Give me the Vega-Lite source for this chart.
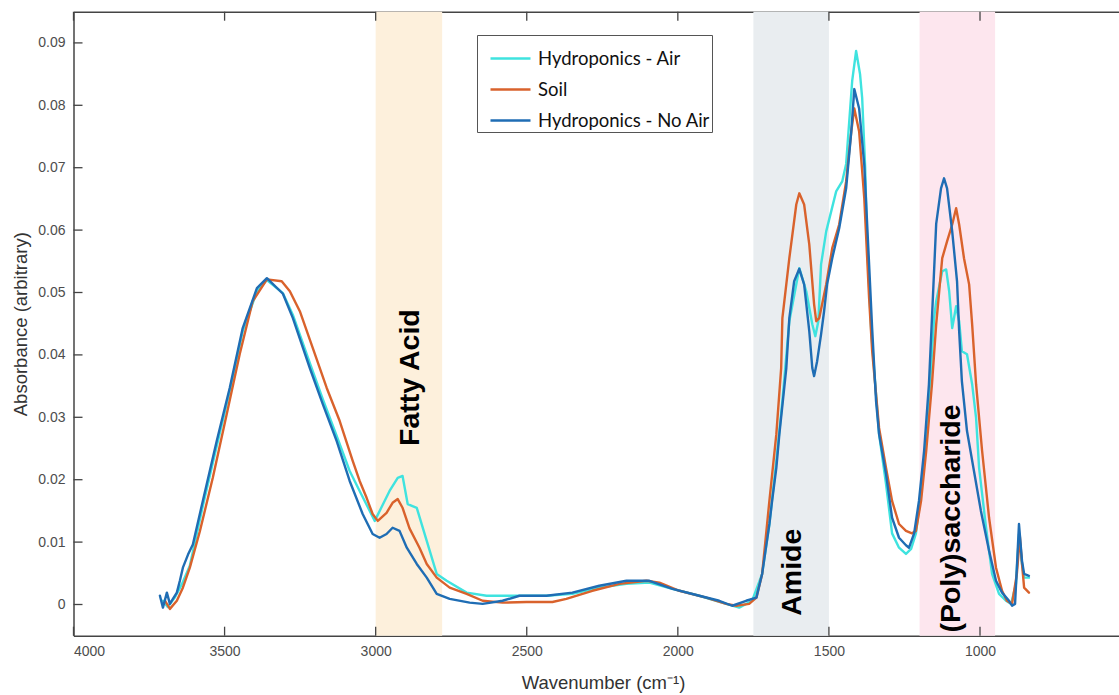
{
  "$schema": "https://vega.github.io/schema/vega-lite/v6.json",
  "width": 1045.5,
  "height": 624,
  "autosize": "none",
  "padding": {"left": 73.5, "top": 11.7, "right": 0, "bottom": 59.3},
  "background": "white",
  "config": {
    "view": {"stroke": null},
    "font": "Liberation Sans",
    "axis": {
      "domainColor": "#444444",
      "domainWidth": 1.5,
      "labelColor": "#4d4d4d",
      "labelFontSize": 14,
      "titleColor": "#333333",
      "titleFontSize": 18.5,
      "titleFontWeight": "normal",
      "grid": false,
      "ticks": false
    }
  },
  "datasets": {
    "bands": [
      {"region": "Fatty Acid", "from": 3000, "to": 2780},
      {"region": "Amide", "from": 1750, "to": 1500},
      {"region": "(Poly)saccharide", "from": 1200, "to": 950}
    ],
    "labels": [
      {"text": "Fatty Acid", "wn": 2888, "abs": 0.0254},
      {"text": "Amide", "wn": 1622, "abs": -0.0018},
      {"text": "(Poly)saccharide", "wn": 1096, "abs": -0.0045}
    ],
    "xticks": [
      {"wn": 1000}, {"wn": 1500}, {"wn": 2000}, {"wn": 2500}, {"wn": 3000}, {"wn": 3500}, {"wn": 4000}
    ],
    "yticks": [
      {"abs": 0}, {"abs": 0.01}, {"abs": 0.02}, {"abs": 0.03}, {"abs": 0.04},
      {"abs": 0.05}, {"abs": 0.06}, {"abs": 0.07}, {"abs": 0.08}, {"abs": 0.09}
    ],
    "spectra": [
      {"series": "Hydroponics - Air", "wn": 3704, "abs": 0.0006},
      {"series": "Hydroponics - Air", "wn": 3688, "abs": -0.0004},
      {"series": "Hydroponics - Air", "wn": 3665, "abs": 0.0011},
      {"series": "Hydroponics - Air", "wn": 3641, "abs": 0.0033},
      {"series": "Hydroponics - Air", "wn": 3615, "abs": 0.0062},
      {"series": "Hydroponics - Air", "wn": 3572, "abs": 0.0158},
      {"series": "Hydroponics - Air", "wn": 3526, "abs": 0.0254},
      {"series": "Hydroponics - Air", "wn": 3483, "abs": 0.0342},
      {"series": "Hydroponics - Air", "wn": 3440, "abs": 0.0438},
      {"series": "Hydroponics - Air", "wn": 3393, "abs": 0.0502},
      {"series": "Hydroponics - Air", "wn": 3360, "abs": 0.0520},
      {"series": "Hydroponics - Air", "wn": 3307, "abs": 0.0499},
      {"series": "Hydroponics - Air", "wn": 3274, "abs": 0.0464},
      {"series": "Hydroponics - Air", "wn": 3218, "abs": 0.0387},
      {"series": "Hydroponics - Air", "wn": 3175, "abs": 0.0329},
      {"series": "Hydroponics - Air", "wn": 3129, "abs": 0.0270},
      {"series": "Hydroponics - Air", "wn": 3086, "abs": 0.0214},
      {"series": "Hydroponics - Air", "wn": 3053, "abs": 0.0182},
      {"series": "Hydroponics - Air", "wn": 3003, "abs": 0.0134},
      {"series": "Hydroponics - Air", "wn": 2954, "abs": 0.0182},
      {"series": "Hydroponics - Air", "wn": 2927, "abs": 0.0203},
      {"series": "Hydroponics - Air", "wn": 2911, "abs": 0.0206},
      {"series": "Hydroponics - Air", "wn": 2894, "abs": 0.0161},
      {"series": "Hydroponics - Air", "wn": 2864, "abs": 0.0155},
      {"series": "Hydroponics - Air", "wn": 2831, "abs": 0.0102},
      {"series": "Hydroponics - Air", "wn": 2798, "abs": 0.0049},
      {"series": "Hydroponics - Air", "wn": 2765, "abs": 0.0038},
      {"series": "Hydroponics - Air", "wn": 2699, "abs": 0.0019},
      {"series": "Hydroponics - Air", "wn": 2633, "abs": 0.0014},
      {"series": "Hydroponics - Air", "wn": 2524, "abs": 0.0014},
      {"series": "Hydroponics - Air", "wn": 2435, "abs": 0.0014},
      {"series": "Hydroponics - Air", "wn": 2349, "abs": 0.0017},
      {"series": "Hydroponics - Air", "wn": 2260, "abs": 0.0027},
      {"series": "Hydroponics - Air", "wn": 2170, "abs": 0.0033},
      {"series": "Hydroponics - Air", "wn": 2094, "abs": 0.0035},
      {"series": "Hydroponics - Air", "wn": 2018, "abs": 0.0025},
      {"series": "Hydroponics - Air", "wn": 1929, "abs": 0.0014},
      {"series": "Hydroponics - Air", "wn": 1840, "abs": 0.0001},
      {"series": "Hydroponics - Air", "wn": 1797, "abs": -0.0005},
      {"series": "Hydroponics - Air", "wn": 1754, "abs": 0.0006},
      {"series": "Hydroponics - Air", "wn": 1721, "abs": 0.0049},
      {"series": "Hydroponics - Air", "wn": 1697, "abs": 0.0129},
      {"series": "Hydroponics - Air", "wn": 1674, "abs": 0.0230},
      {"series": "Hydroponics - Air", "wn": 1654, "abs": 0.0326},
      {"series": "Hydroponics - Air", "wn": 1631, "abs": 0.0454},
      {"series": "Hydroponics - Air", "wn": 1598, "abs": 0.0539},
      {"series": "Hydroponics - Air", "wn": 1575, "abs": 0.0502},
      {"series": "Hydroponics - Air", "wn": 1555, "abs": 0.0449},
      {"series": "Hydroponics - Air", "wn": 1545, "abs": 0.0430},
      {"series": "Hydroponics - Air", "wn": 1535, "abs": 0.0454},
      {"series": "Hydroponics - Air", "wn": 1526, "abs": 0.0545},
      {"series": "Hydroponics - Air", "wn": 1509, "abs": 0.0598},
      {"series": "Hydroponics - Air", "wn": 1476, "abs": 0.0662},
      {"series": "Hydroponics - Air", "wn": 1456, "abs": 0.0678},
      {"series": "Hydroponics - Air", "wn": 1443, "abs": 0.0706},
      {"series": "Hydroponics - Air", "wn": 1423, "abs": 0.0839},
      {"series": "Hydroponics - Air", "wn": 1410, "abs": 0.0887},
      {"series": "Hydroponics - Air", "wn": 1397, "abs": 0.0850},
      {"series": "Hydroponics - Air", "wn": 1390, "abs": 0.0812},
      {"series": "Hydroponics - Air", "wn": 1380, "abs": 0.0700},
      {"series": "Hydroponics - Air", "wn": 1373, "abs": 0.0571},
      {"series": "Hydroponics - Air", "wn": 1360, "abs": 0.0438},
      {"series": "Hydroponics - Air", "wn": 1334, "abs": 0.0273},
      {"series": "Hydroponics - Air", "wn": 1311, "abs": 0.0193},
      {"series": "Hydroponics - Air", "wn": 1291, "abs": 0.0114},
      {"series": "Hydroponics - Air", "wn": 1268, "abs": 0.0091},
      {"series": "Hydroponics - Air", "wn": 1245, "abs": 0.0081},
      {"series": "Hydroponics - Air", "wn": 1228, "abs": 0.0089},
      {"series": "Hydroponics - Air", "wn": 1212, "abs": 0.0114},
      {"series": "Hydroponics - Air", "wn": 1195, "abs": 0.0178},
      {"series": "Hydroponics - Air", "wn": 1178, "abs": 0.0262},
      {"series": "Hydroponics - Air", "wn": 1162, "abs": 0.0379},
      {"series": "Hydroponics - Air", "wn": 1152, "abs": 0.0459},
      {"series": "Hydroponics - Air", "wn": 1145, "abs": 0.0486},
      {"series": "Hydroponics - Air", "wn": 1125, "abs": 0.0534},
      {"series": "Hydroponics - Air", "wn": 1112, "abs": 0.0537},
      {"series": "Hydroponics - Air", "wn": 1102, "abs": 0.0502},
      {"series": "Hydroponics - Air", "wn": 1092, "abs": 0.0443},
      {"series": "Hydroponics - Air", "wn": 1079, "abs": 0.0478},
      {"series": "Hydroponics - Air", "wn": 1069, "abs": 0.0454},
      {"series": "Hydroponics - Air", "wn": 1060, "abs": 0.0406},
      {"series": "Hydroponics - Air", "wn": 1043, "abs": 0.0401},
      {"series": "Hydroponics - Air", "wn": 1026, "abs": 0.0353},
      {"series": "Hydroponics - Air", "wn": 1013, "abs": 0.0299},
      {"series": "Hydroponics - Air", "wn": 1003, "abs": 0.0219},
      {"series": "Hydroponics - Air", "wn": 980, "abs": 0.0123},
      {"series": "Hydroponics - Air", "wn": 960, "abs": 0.0049},
      {"series": "Hydroponics - Air", "wn": 937, "abs": 0.0017},
      {"series": "Hydroponics - Air", "wn": 914, "abs": 0.0006},
      {"series": "Hydroponics - Air", "wn": 897, "abs": 0.0001},
      {"series": "Hydroponics - Air", "wn": 881, "abs": 0.0033},
      {"series": "Hydroponics - Air", "wn": 871, "abs": 0.0113},
      {"series": "Hydroponics - Air", "wn": 861, "abs": 0.0065},
      {"series": "Hydroponics - Air", "wn": 854, "abs": 0.0043},
      {"series": "Hydroponics - Air", "wn": 838, "abs": 0.0043},

      {"series": "Soil", "wn": 3697, "abs": 0.0006},
      {"series": "Soil", "wn": 3681, "abs": -0.0007},
      {"series": "Soil", "wn": 3658, "abs": 0.0006},
      {"series": "Soil", "wn": 3638, "abs": 0.0027},
      {"series": "Soil", "wn": 3615, "abs": 0.0059},
      {"series": "Soil", "wn": 3582, "abs": 0.0117},
      {"series": "Soil", "wn": 3539, "abs": 0.0203},
      {"series": "Soil", "wn": 3493, "abs": 0.0305},
      {"series": "Soil", "wn": 3450, "abs": 0.0401},
      {"series": "Soil", "wn": 3407, "abs": 0.0486},
      {"series": "Soil", "wn": 3360, "abs": 0.0521},
      {"series": "Soil", "wn": 3311, "abs": 0.0518},
      {"series": "Soil", "wn": 3284, "abs": 0.0502},
      {"series": "Soil", "wn": 3251, "abs": 0.0470},
      {"series": "Soil", "wn": 3208, "abs": 0.0411},
      {"series": "Soil", "wn": 3162, "abs": 0.0347},
      {"series": "Soil", "wn": 3119, "abs": 0.0294},
      {"series": "Soil", "wn": 3076, "abs": 0.0230},
      {"series": "Soil", "wn": 3053, "abs": 0.0198},
      {"series": "Soil", "wn": 3030, "abs": 0.0171},
      {"series": "Soil", "wn": 3010, "abs": 0.0145},
      {"series": "Soil", "wn": 2993, "abs": 0.0134},
      {"series": "Soil", "wn": 2964, "abs": 0.0147},
      {"series": "Soil", "wn": 2944, "abs": 0.0163},
      {"series": "Soil", "wn": 2927, "abs": 0.0169},
      {"series": "Soil", "wn": 2911, "abs": 0.0155},
      {"series": "Soil", "wn": 2888, "abs": 0.0122},
      {"series": "Soil", "wn": 2855, "abs": 0.0091},
      {"series": "Soil", "wn": 2831, "abs": 0.0065},
      {"series": "Soil", "wn": 2798, "abs": 0.0043},
      {"series": "Soil", "wn": 2755, "abs": 0.0027},
      {"series": "Soil", "wn": 2699, "abs": 0.0017},
      {"series": "Soil", "wn": 2646, "abs": 0.0006},
      {"series": "Soil", "wn": 2580, "abs": 0.0003},
      {"series": "Soil", "wn": 2501, "abs": 0.0004},
      {"series": "Soil", "wn": 2415, "abs": 0.0004},
      {"series": "Soil", "wn": 2369, "abs": 0.0009},
      {"series": "Soil", "wn": 2283, "abs": 0.0022},
      {"series": "Soil", "wn": 2193, "abs": 0.0033},
      {"series": "Soil", "wn": 2104, "abs": 0.0038},
      {"series": "Soil", "wn": 2061, "abs": 0.0035},
      {"series": "Soil", "wn": 1995, "abs": 0.0022},
      {"series": "Soil", "wn": 1906, "abs": 0.0011},
      {"series": "Soil", "wn": 1840, "abs": 0.0001},
      {"series": "Soil", "wn": 1807, "abs": -0.0002},
      {"series": "Soil", "wn": 1764, "abs": 0.0001},
      {"series": "Soil", "wn": 1740, "abs": 0.0011},
      {"series": "Soil", "wn": 1721, "abs": 0.0049},
      {"series": "Soil", "wn": 1697, "abs": 0.0166},
      {"series": "Soil", "wn": 1674, "abs": 0.0273},
      {"series": "Soil", "wn": 1658, "abs": 0.0379},
      {"series": "Soil", "wn": 1654, "abs": 0.0459},
      {"series": "Soil", "wn": 1631, "abs": 0.0555},
      {"series": "Soil", "wn": 1608, "abs": 0.0641},
      {"series": "Soil", "wn": 1598, "abs": 0.0659},
      {"series": "Soil", "wn": 1582, "abs": 0.0641},
      {"series": "Soil", "wn": 1565, "abs": 0.0577},
      {"series": "Soil", "wn": 1549, "abs": 0.0481},
      {"series": "Soil", "wn": 1542, "abs": 0.0454},
      {"series": "Soil", "wn": 1532, "abs": 0.0459},
      {"series": "Soil", "wn": 1509, "abs": 0.0513},
      {"series": "Soil", "wn": 1489, "abs": 0.0571},
      {"series": "Soil", "wn": 1466, "abs": 0.0609},
      {"series": "Soil", "wn": 1443, "abs": 0.0678},
      {"series": "Soil", "wn": 1426, "abs": 0.0758},
      {"series": "Soil", "wn": 1416, "abs": 0.0795},
      {"series": "Soil", "wn": 1400, "abs": 0.0758},
      {"series": "Soil", "wn": 1383, "abs": 0.0651},
      {"series": "Soil", "wn": 1367, "abs": 0.0491},
      {"series": "Soil", "wn": 1357, "abs": 0.0407},
      {"series": "Soil", "wn": 1334, "abs": 0.0283},
      {"series": "Soil", "wn": 1311, "abs": 0.0219},
      {"series": "Soil", "wn": 1291, "abs": 0.0166},
      {"series": "Soil", "wn": 1268, "abs": 0.0129},
      {"series": "Soil", "wn": 1245, "abs": 0.0118},
      {"series": "Soil", "wn": 1225, "abs": 0.0114},
      {"series": "Soil", "wn": 1212, "abs": 0.0118},
      {"series": "Soil", "wn": 1195, "abs": 0.0166},
      {"series": "Soil", "wn": 1178, "abs": 0.0246},
      {"series": "Soil", "wn": 1159, "abs": 0.0353},
      {"series": "Soil", "wn": 1145, "abs": 0.0449},
      {"series": "Soil", "wn": 1125, "abs": 0.0555},
      {"series": "Soil", "wn": 1109, "abs": 0.0582},
      {"series": "Soil", "wn": 1092, "abs": 0.0609},
      {"series": "Soil", "wn": 1079, "abs": 0.0635},
      {"series": "Soil", "wn": 1069, "abs": 0.0609},
      {"series": "Soil", "wn": 1053, "abs": 0.0555},
      {"series": "Soil", "wn": 1036, "abs": 0.0513},
      {"series": "Soil", "wn": 1026, "abs": 0.0449},
      {"series": "Soil", "wn": 1013, "abs": 0.0353},
      {"series": "Soil", "wn": 993, "abs": 0.0246},
      {"series": "Soil", "wn": 970, "abs": 0.0139},
      {"series": "Soil", "wn": 947, "abs": 0.0059},
      {"series": "Soil", "wn": 927, "abs": 0.0022},
      {"series": "Soil", "wn": 911, "abs": 0.0006},
      {"series": "Soil", "wn": 894, "abs": 0.0001},
      {"series": "Soil", "wn": 878, "abs": 0.0049},
      {"series": "Soil", "wn": 868, "abs": 0.0109},
      {"series": "Soil", "wn": 861, "abs": 0.0065},
      {"series": "Soil", "wn": 854, "abs": 0.0027},
      {"series": "Soil", "wn": 838, "abs": 0.0019},

      {"series": "Hydroponics - No Air", "wn": 3714, "abs": 0.0014},
      {"series": "Hydroponics - No Air", "wn": 3704, "abs": -0.0005},
      {"series": "Hydroponics - No Air", "wn": 3691, "abs": 0.0019},
      {"series": "Hydroponics - No Air", "wn": 3681, "abs": 0.0001},
      {"series": "Hydroponics - No Air", "wn": 3671, "abs": 0.0009},
      {"series": "Hydroponics - No Air", "wn": 3658, "abs": 0.0019},
      {"series": "Hydroponics - No Air", "wn": 3648, "abs": 0.0038},
      {"series": "Hydroponics - No Air", "wn": 3638, "abs": 0.0059},
      {"series": "Hydroponics - No Air", "wn": 3621, "abs": 0.0080},
      {"series": "Hydroponics - No Air", "wn": 3605, "abs": 0.0096},
      {"series": "Hydroponics - No Air", "wn": 3572, "abs": 0.0166},
      {"series": "Hydroponics - No Air", "wn": 3526, "abs": 0.0262},
      {"series": "Hydroponics - No Air", "wn": 3483, "abs": 0.0347},
      {"series": "Hydroponics - No Air", "wn": 3440, "abs": 0.0443},
      {"series": "Hydroponics - No Air", "wn": 3393, "abs": 0.0507},
      {"series": "Hydroponics - No Air", "wn": 3360, "abs": 0.0523},
      {"series": "Hydroponics - No Air", "wn": 3307, "abs": 0.0498},
      {"series": "Hydroponics - No Air", "wn": 3274, "abs": 0.0459},
      {"series": "Hydroponics - No Air", "wn": 3218, "abs": 0.0379},
      {"series": "Hydroponics - No Air", "wn": 3175, "abs": 0.0321},
      {"series": "Hydroponics - No Air", "wn": 3129, "abs": 0.0262},
      {"series": "Hydroponics - No Air", "wn": 3086, "abs": 0.0198},
      {"series": "Hydroponics - No Air", "wn": 3043, "abs": 0.0145},
      {"series": "Hydroponics - No Air", "wn": 3010, "abs": 0.0113},
      {"series": "Hydroponics - No Air", "wn": 2987, "abs": 0.0107},
      {"series": "Hydroponics - No Air", "wn": 2964, "abs": 0.0113},
      {"series": "Hydroponics - No Air", "wn": 2944, "abs": 0.0123},
      {"series": "Hydroponics - No Air", "wn": 2921, "abs": 0.0118},
      {"series": "Hydroponics - No Air", "wn": 2897, "abs": 0.0091},
      {"series": "Hydroponics - No Air", "wn": 2864, "abs": 0.0065},
      {"series": "Hydroponics - No Air", "wn": 2831, "abs": 0.0043},
      {"series": "Hydroponics - No Air", "wn": 2798, "abs": 0.0017},
      {"series": "Hydroponics - No Air", "wn": 2755, "abs": 0.0009},
      {"series": "Hydroponics - No Air", "wn": 2689, "abs": 0.0003},
      {"series": "Hydroponics - No Air", "wn": 2646, "abs": 0.0001},
      {"series": "Hydroponics - No Air", "wn": 2580, "abs": 0.0006},
      {"series": "Hydroponics - No Air", "wn": 2524, "abs": 0.0014},
      {"series": "Hydroponics - No Air", "wn": 2435, "abs": 0.0014},
      {"series": "Hydroponics - No Air", "wn": 2349, "abs": 0.0019},
      {"series": "Hydroponics - No Air", "wn": 2260, "abs": 0.0030},
      {"series": "Hydroponics - No Air", "wn": 2170, "abs": 0.0038},
      {"series": "Hydroponics - No Air", "wn": 2094, "abs": 0.0038},
      {"series": "Hydroponics - No Air", "wn": 2018, "abs": 0.0025},
      {"series": "Hydroponics - No Air", "wn": 1929, "abs": 0.0014},
      {"series": "Hydroponics - No Air", "wn": 1863, "abs": 0.0006},
      {"series": "Hydroponics - No Air", "wn": 1820, "abs": -0.0002},
      {"series": "Hydroponics - No Air", "wn": 1774, "abs": 0.0006},
      {"series": "Hydroponics - No Air", "wn": 1740, "abs": 0.0011},
      {"series": "Hydroponics - No Air", "wn": 1721, "abs": 0.0049},
      {"series": "Hydroponics - No Air", "wn": 1697, "abs": 0.0129},
      {"series": "Hydroponics - No Air", "wn": 1688, "abs": 0.0166},
      {"series": "Hydroponics - No Air", "wn": 1674, "abs": 0.0219},
      {"series": "Hydroponics - No Air", "wn": 1664, "abs": 0.0273},
      {"series": "Hydroponics - No Air", "wn": 1641, "abs": 0.0379},
      {"series": "Hydroponics - No Air", "wn": 1631, "abs": 0.0459},
      {"series": "Hydroponics - No Air", "wn": 1615, "abs": 0.0518},
      {"series": "Hydroponics - No Air", "wn": 1598, "abs": 0.0538},
      {"series": "Hydroponics - No Air", "wn": 1582, "abs": 0.0513},
      {"series": "Hydroponics - No Air", "wn": 1565, "abs": 0.0438},
      {"series": "Hydroponics - No Air", "wn": 1555, "abs": 0.0379},
      {"series": "Hydroponics - No Air", "wn": 1549, "abs": 0.0366},
      {"series": "Hydroponics - No Air", "wn": 1539, "abs": 0.0390},
      {"series": "Hydroponics - No Air", "wn": 1526, "abs": 0.0433},
      {"series": "Hydroponics - No Air", "wn": 1516, "abs": 0.0470},
      {"series": "Hydroponics - No Air", "wn": 1506, "abs": 0.0513},
      {"series": "Hydroponics - No Air", "wn": 1489, "abs": 0.0555},
      {"series": "Hydroponics - No Air", "wn": 1466, "abs": 0.0603},
      {"series": "Hydroponics - No Air", "wn": 1443, "abs": 0.0667},
      {"series": "Hydroponics - No Air", "wn": 1426, "abs": 0.0758},
      {"series": "Hydroponics - No Air", "wn": 1416, "abs": 0.0826},
      {"series": "Hydroponics - No Air", "wn": 1400, "abs": 0.0795},
      {"series": "Hydroponics - No Air", "wn": 1383, "abs": 0.0705},
      {"series": "Hydroponics - No Air", "wn": 1367, "abs": 0.0545},
      {"series": "Hydroponics - No Air", "wn": 1357, "abs": 0.0443},
      {"series": "Hydroponics - No Air", "wn": 1344, "abs": 0.0326},
      {"series": "Hydroponics - No Air", "wn": 1334, "abs": 0.0273},
      {"series": "Hydroponics - No Air", "wn": 1311, "abs": 0.0209},
      {"series": "Hydroponics - No Air", "wn": 1291, "abs": 0.0139},
      {"series": "Hydroponics - No Air", "wn": 1268, "abs": 0.0107},
      {"series": "Hydroponics - No Air", "wn": 1245, "abs": 0.0095},
      {"series": "Hydroponics - No Air", "wn": 1235, "abs": 0.0091},
      {"series": "Hydroponics - No Air", "wn": 1218, "abs": 0.0114},
      {"series": "Hydroponics - No Air", "wn": 1202, "abs": 0.0166},
      {"series": "Hydroponics - No Air", "wn": 1185, "abs": 0.0246},
      {"series": "Hydroponics - No Air", "wn": 1169, "abs": 0.0353},
      {"series": "Hydroponics - No Air", "wn": 1159, "abs": 0.0459},
      {"series": "Hydroponics - No Air", "wn": 1145, "abs": 0.0610},
      {"series": "Hydroponics - No Air", "wn": 1129, "abs": 0.0667},
      {"series": "Hydroponics - No Air", "wn": 1119, "abs": 0.0683},
      {"series": "Hydroponics - No Air", "wn": 1109, "abs": 0.0667},
      {"series": "Hydroponics - No Air", "wn": 1092, "abs": 0.0598},
      {"series": "Hydroponics - No Air", "wn": 1076, "abs": 0.0518},
      {"series": "Hydroponics - No Air", "wn": 1069, "abs": 0.0438},
      {"series": "Hydroponics - No Air", "wn": 1060, "abs": 0.0358},
      {"series": "Hydroponics - No Air", "wn": 1043, "abs": 0.0278},
      {"series": "Hydroponics - No Air", "wn": 1020, "abs": 0.0214},
      {"series": "Hydroponics - No Air", "wn": 997, "abs": 0.0150},
      {"series": "Hydroponics - No Air", "wn": 970, "abs": 0.0086},
      {"series": "Hydroponics - No Air", "wn": 947, "abs": 0.0038},
      {"series": "Hydroponics - No Air", "wn": 927, "abs": 0.0019},
      {"series": "Hydroponics - No Air", "wn": 904, "abs": 0.0006},
      {"series": "Hydroponics - No Air", "wn": 894, "abs": -0.0002},
      {"series": "Hydroponics - No Air", "wn": 884, "abs": 0.0001},
      {"series": "Hydroponics - No Air", "wn": 878, "abs": 0.0059},
      {"series": "Hydroponics - No Air", "wn": 871, "abs": 0.0129},
      {"series": "Hydroponics - No Air", "wn": 861, "abs": 0.0070},
      {"series": "Hydroponics - No Air", "wn": 854, "abs": 0.0049},
      {"series": "Hydroponics - No Air", "wn": 838, "abs": 0.0046}
    ]
  },
  "resolve": {"axis": {"x": "independent", "y": "independent"}},
  "layer": [
    {
      "data": {"name": "bands"},
      "mark": {"type": "rect", "opacity": 1},
      "encoding": {
        "x": {"field": "from", "type": "quantitative",
              "scale": {"domain": [540, 4000], "reverse": true, "nice": false, "zero": false},
              "axis": {"orient": "bottom", "labels": false, "title": null, "domain": true}},
        "x2": {"field": "to"},
        "fill": {"field": "region", "type": "nominal", "legend": null,
                 "scale": {"domain": ["Fatty Acid", "Amide", "(Poly)saccharide"],
                           "range": ["#fdf0dc", "#e9edf0", "#fde6ee"]}}
      }
    },
    {
      "data": {"name": "xticks"},
      "mark": {"type": "tick", "orient": "vertical", "size": 9, "thickness": 1.3, "yOffset": -4.5, "color": "#444444", "opacity": 1},
      "encoding": {
        "x": {"field": "wn", "type": "quantitative",
              "scale": {"domain": [540, 4000], "reverse": true, "nice": false, "zero": false}, "axis": null},
        "y": {"datum": -0.005, "type": "quantitative",
              "scale": {"domain": [-0.005, 0.095], "nice": false, "zero": false}, "axis": null}
      }
    },
    {
      "data": {"name": "xticks"},
      "mark": {"type": "tick", "orient": "vertical", "size": 9, "thickness": 1.3, "yOffset": 4.5, "color": "#444444", "opacity": 1},
      "encoding": {
        "x": {"field": "wn", "type": "quantitative",
              "scale": {"domain": [540, 4000], "reverse": true, "nice": false, "zero": false}, "axis": null},
        "y": {"datum": 0.095, "type": "quantitative",
              "scale": {"domain": [-0.005, 0.095], "nice": false, "zero": false}, "axis": null}
      }
    },
    {
      "data": {"name": "yticks"},
      "mark": {"type": "tick", "orient": "horizontal", "size": 9, "thickness": 1.3, "xOffset": 4.5, "color": "#444444", "opacity": 1},
      "encoding": {
        "x": {"datum": 4000, "type": "quantitative",
              "scale": {"domain": [540, 4000], "reverse": true, "nice": false, "zero": false}, "axis": null},
        "y": {"field": "abs", "type": "quantitative",
              "scale": {"domain": [-0.005, 0.095], "nice": false, "zero": false}, "axis": null}
      }
    },
    {
      "data": {"name": "spectra"},
      "mark": {"type": "line", "strokeWidth": 2.4, "strokeJoin": "round", "strokeCap": "round"},
      "encoding": {
        "x": {"field": "wn", "type": "quantitative",
              "scale": {"domain": [540, 4000], "reverse": true, "nice": false, "zero": false},
              "axis": {"orient": "bottom", "domain": false,
                       "values": [1000, 1500, 2000, 2500, 3000, 3500, 4000],
                       "labelPadding": 9, "format": "d",
                       "title": "Wavenumber (cm⁻¹)", "titleX": 529.5, "titleY": 47, "titleBaseline": "middle"}},
        "y": {"field": "abs", "type": "quantitative",
              "scale": {"domain": [-0.005, 0.095], "nice": false, "zero": false},
              "axis": {"orient": "left", "domain": false,
                       "values": [0, 0.01, 0.02, 0.03, 0.04, 0.05, 0.06, 0.07, 0.08, 0.09],
                       "labelPadding": 8.5,
                       "labelExpr": "datum.value == 0 ? '0' : format(datum.value, '.2f')",
                       "title": "Absorbance (arbitrary)", "titleX": -53.5, "titleY": 312,
                       "titleBaseline": "middle", "titleAlign": "center"}},
        "color": {"field": "series", "type": "nominal",
                  "scale": {"domain": ["Hydroponics - Air", "Soil", "Hydroponics - No Air"],
                            "range": ["#3fe3df", "#d9622c", "#1f6db4"]},
                  "legend": {"title": null, "orient": "none", "legendX": 403.5, "legendY": 23.3,
                             "symbolType": "stroke", "symbolSize": 1600, "symbolStrokeWidth": 2.5,
                             "symbolOffset": 10,
                             "labelFontSize": 18.5, "labelFont": "Lato", "labelColor": "#111111",
                             "labelLimit": 400,
                             "labelOffset": 6, "rowPadding": -9, "padding": 2,
                             "strokeColor": "#555555", "fillColor": "white"}}
      }
    },
    {
      "data": {"name": "labels"},
      "mark": {"type": "text", "angle": 270, "align": "left", "baseline": "middle",
               "fontSize": 28.5, "fontWeight": "bold", "font": "Liberation Sans", "color": "#000000"},
      "encoding": {
        "x": {"field": "wn", "type": "quantitative",
              "scale": {"domain": [540, 4000], "reverse": true, "nice": false, "zero": false},
              "axis": {"orient": "top", "labels": false, "title": null, "domain": true}},
        "y": {"field": "abs", "type": "quantitative",
              "scale": {"domain": [-0.005, 0.095], "nice": false, "zero": false},
              "axis": {"orient": "left", "labels": false, "title": null, "domain": true}},
        "text": {"field": "text"}
      }
    }
  ]
}
